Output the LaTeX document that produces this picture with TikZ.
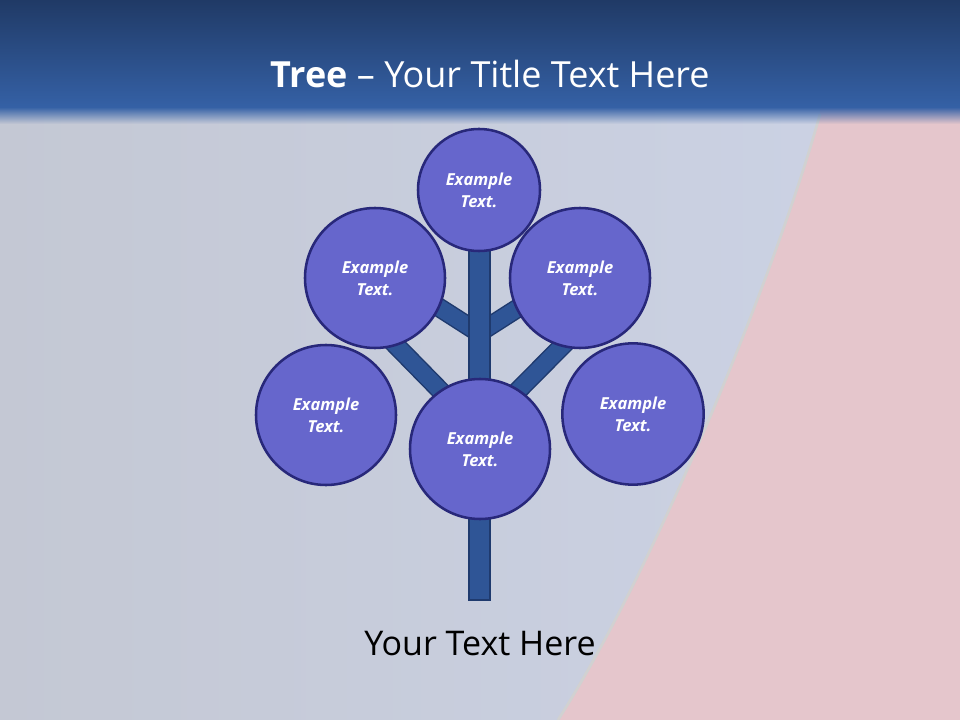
\documentclass[tikz,border=0pt]{standalone}
\usepackage{fontspec}
\setmainfont{Open Sans}
\usetikzlibrary{fadings}
\definecolor{bgleft}{HTML}{C4C8D4}
\definecolor{bgright}{HTML}{CCD3E6}
\definecolor{pinkbg}{HTML}{E5C6CC}
\definecolor{bartop}{HTML}{203A66}
\definecolor{barbot}{HTML}{3561A6}
\definecolor{leaffill}{HTML}{6666CC}
\definecolor{leafline}{HTML}{28287A}
\definecolor{woodfill}{HTML}{2F5596}
\definecolor{woodline}{HTML}{1F3A6E}
\tikzset{
  leaf/.style={circle,draw=leafline,fill=leaffill,line width=1.9pt,inner sep=0pt,
    text=white,align=center,font=\fontsize{12.4}{16.5}\selectfont\bfseries\itshape},
  branchout/.style={draw=woodline,line width=14.5pt},
  branchin/.style={draw=woodfill,line width=12.3pt}
}
\begin{document}
\begin{tikzpicture}[x=0.75pt,y=-0.75pt]
\useasboundingbox (0,0) rectangle (960,720);
\shade[left color=bgleft,right color=bgright] (0,0) rectangle (960,720);
\fill[pinkbg] (820,100) -- (960,100) -- (960,720) -- (558,720) .. controls (660,560) and (780,260) .. (820,114) -- cycle;
\draw[color=black!18,line width=2pt] (558,720) .. controls (660,560) and (780,260) .. (820,114);
\shade[top color=bartop,bottom color=barbot] (0,0) rectangle (960,108);
\fill[barbot,path fading=south] (0,107) rectangle (960,124);
\node[text=white,font=\fontsize{27}{32}\selectfont,anchor=base] (title) at (490,88) {\textbf{Tree} – Your Title Text Here};
\coordinate (forkup) at (479,333);
\coordinate (forklow) at (479,430);
\coordinate (endul) at (418,294);
\coordinate (endur) at (540,294);
\coordinate (endll) at (378,327);
\coordinate (endlr) at (581,327);
\foreach \a/\b in {forkup/endul,forkup/endur,forklow/endll,forklow/endlr}{
  \draw[branchout] (\a) -- (\b);
  \draw[branchin] (\a) -- (\b);
}
\draw[draw=woodline,fill=woodfill,line width=1.2pt] (469,246) rectangle (490,600);
\node[leaf,minimum size=91.5pt] (top) at (479,190) {Example\\Text.};
\node[leaf,minimum size=105pt] (upleft) at (375,278) {Example\\Text.};
\node[leaf,minimum size=105pt] (upright) at (580,278) {Example\\Text.};
\node[leaf,minimum size=105pt] (left) at (326,415) {Example\\Text.};
\node[leaf,minimum size=105pt] (mid) at (480,449) {Example\\Text.};
\node[leaf,minimum size=106pt] (right) at (633,414) {Example\\Text.};
\node[font=\fontsize{25.5}{30}\selectfont,anchor=base] (caption) at (480,655) {Your Text Here};
\end{tikzpicture}
\end{document}
